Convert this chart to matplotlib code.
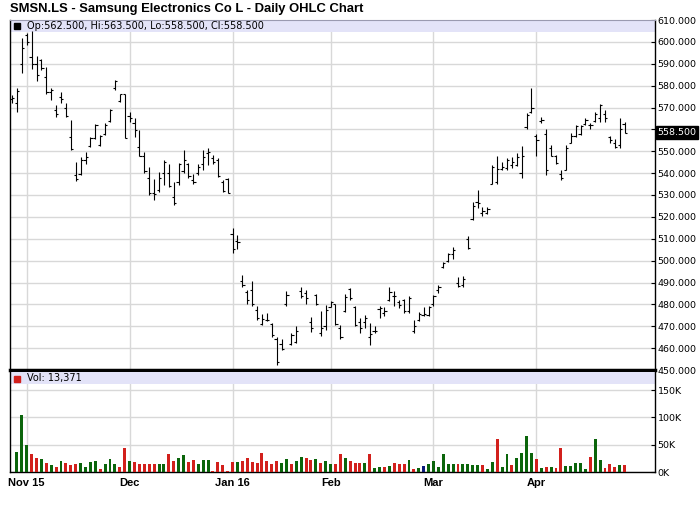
import numpy as np
import matplotlib.pyplot as plt
from matplotlib.patches import Rectangle
from matplotlib.transforms import blended_transform_factory

# Daily OHLC values (end Oct 2015 - late Apr 2016)
opens = [574, 572, 590, 603, 593, 590, 591.5, 584, 577, 569,
         575, 570, 556.6, 539, 539.5, 546, 552.5, 556, 553, 558,
         564, 579, 573, 576, 566, 563, 552, 548, 538, 531,
         532.5, 540, 540, 529, 536, 541, 544, 537, 540, 544,
         549, 547, 546, 536, 537.5, 512.4, 509, 490.9, 485.5, 486.5,
         477.5, 471, 473, 471, 464, 462, 480, 462, 463, 486,
         485, 472, 484.5, 467, 470, 479, 480, 469, 477, 487,
         479, 472, 472, 465, 468, 478, 476, 482, 484, 481,
         481.8, 477, 468, 473, 475, 475, 480, 486.5, 497, 500,
         503, 490, 489, 510, 519, 527, 522, 522, 535, 536,
         542, 542.5, 543.5, 543.5, 540, 561, 568, 557, 564, 558,
         551.7, 548, 539.8, 541.5, 554, 557, 558, 562.5, 562, 564,
         565, 567, 556.6, 554, 553, 562.5]
highs = [575.8, 578.8, 601.8, 604.1, 605, 593.4, 592.2, 588.5, 578.8, 571.2,
         577.3, 572, 564.3, 545.2, 547.4, 549.7, 556.6, 562.4, 557.4, 563,
         569.2, 582.7, 576.2, 576.2, 567.8, 565, 559.7, 549.8, 542.9, 537.1,
         540.6, 545.9, 544.4, 536, 544.7, 550.5, 544.7, 539.8, 544.4, 550.8,
         551.7, 548.2, 546.7, 536.8, 538, 514.7, 511.6, 493.6, 486.4, 490.6,
         479.4, 475.7, 476, 471.4, 465, 464, 486, 466.8, 469.9, 487.9,
         486.7, 474.2, 484.7, 476.8, 479.8, 481.4, 480.3, 470.6, 484.9, 487.5,
         479.4, 473.7, 475.2, 471.4, 469.9, 479.1, 478.8, 487.9, 486, 482.1,
         482.4, 483.7, 472.9, 476.3, 478.8, 479.4, 484.4, 489, 499.5, 503.3,
         506.1, 492.6, 492.9, 511.4, 526.8, 532.1, 524.5, 524.5, 543.6, 547.7,
         545.1, 546.7, 547.4, 549, 552.3, 567.3, 579, 557.8, 565.5, 560.4,
         552.8, 548.2, 541.3, 552.8, 558.5, 562, 562, 565, 563, 568.1,
         571.6, 568.9, 557.2, 555.8, 565, 563.5]
lows = [572, 568.1, 585.7, 598.7, 587.5, 581.9, 587.3, 576.2, 573.5, 565.8,
        572, 565.5, 550.5, 536.6, 539, 544.1, 552, 555.4, 552.4, 557.4,
        563.5, 578.1, 572.7, 555.9, 563.5, 556.6, 547.8, 540.1, 529.9, 527.6,
        531.4, 534.5, 533.7, 525.3, 534.5, 540.1, 538, 535.2, 539.1, 541.3,
        543.6, 544.4, 538.3, 531.4, 531, 503.5, 505.5, 487.8, 480.3, 479.4,
        472.9, 470.6, 472.6, 465, 452.3, 459.2, 479.4, 461.5, 462.2, 482.9,
        480.3, 467.6, 479.8, 465.6, 468.3, 478.8, 470.6, 464, 476.3, 482.1,
        469.9, 466.8, 469.1, 461.5, 467.1, 473.7, 474.8, 481.4, 479.4, 478.3,
        476, 476, 467.1, 472.2, 474.5, 474.5, 479.1, 485.4, 496.6, 499.2,
        500.7, 488, 488, 505.3, 518.6, 524.1, 520.6, 521.1, 534.9, 534.9,
        541.6, 541.3, 542.5, 543.1, 537.9, 560.4, 567.3, 547.7, 562.7, 539,
        547.7, 544.1, 536.7, 541.3, 553.6, 556.3, 557.4, 562, 560.4, 563.5,
        563.5, 563.5, 553.6, 551.7, 551.7, 558.5]
closes = [574.3, 577.5, 597, 600, 590, 585, 588, 577, 578, 567,
          574, 566, 551, 537.5, 546, 547.5, 556, 562, 557, 562,
          569, 582, 576, 556, 565, 559.5, 548, 541, 531, 530.5,
          538, 545, 534, 526.5, 544, 546, 538.5, 536, 543, 547.5,
          549.5, 545, 538.5, 532, 531, 505.5, 508.3, 489, 482, 480,
          474, 473.5, 472.8, 466, 453.5, 459.5, 484.5, 466, 468, 484,
          483, 469, 480, 469, 477.5, 481, 471, 465, 483.5, 482.9,
          470.6, 469, 474, 466.5, 468, 478.5, 477, 485.5, 483.7, 479.5,
          477, 483, 470, 475.8, 475.8, 478.8, 483.7, 487.8, 499, 503,
          505, 488.5, 491.5, 505.8, 525, 526.3, 522.5, 523.4, 543, 542,
          543, 545.8, 545, 547.5, 548, 566.6, 569.6, 555, 564.3, 541.5,
          548, 544.5, 538, 551.5, 557, 561.5, 561.7, 564.3, 562, 567,
          571, 565, 555, 552, 560.4, 558.5]
# volume in thousands
volumes = [0, 37.5, 105, 48.8, 32.5, 25, 24.4, 15.6, 11.9, 10,
           20.6, 15.6, 11.9, 13.8, 16.9, 10, 18.8, 20.6, 5.6, 15,
           24.4, 13.8, 10, 43.8, 20.6, 18.8, 13.8, 13.8, 15, 13.8,
           15, 15, 32.5, 19.4, 26.3, 31.9, 18.8, 22.5, 15, 22.5,
           22.5, 1.9, 18.8, 11.9, 1.9, 18.8, 17.5, 19.4, 26.3, 17.5,
           15.6, 35.6, 20.6, 13.8, 20.6, 16.9, 24.4, 15, 20.6, 28.1,
           26.3, 22.5, 24.4, 16.9, 20.6, 13.8, 13.8, 33.8, 26.3, 20.6,
           16.9, 16.9, 16.9, 33.8, 8.1, 9.4, 9.4, 11.3, 16.9, 15,
           13.8, 22.5, 6.3, 8.1, 11.3, 13.8, 19.4, 10, 32.5, 15,
           13.8, 13.8, 13.8, 15, 13.1, 11.9, 11.9, 6.3, 18.8, 60,
           10, 32.5, 11.9, 26.3, 35.6, 66.3, 34.4, 23.1, 8.1, 9.4,
           9.4, 8.1, 43.8, 11.3, 11.3, 15.6, 15.6, 6.3, 26.9, 60,
           22.5, 8.1, 13.8, 10, 11.9, 13.371]

month_labels = ['Nov 15', 'Dec', 'Jan 16', 'Feb', 'Mar', 'Apr']
month_pos = [3, 24, 45, 65, 86, 107]

x = np.arange(len(opens))
vols = np.array(volumes) * 1000

# volume colour: green up day, red down day, navy unchanged
vol_colors = ['#0b650b']
for i in range(1, len(closes)):
    if closes[i] > closes[i - 1]:
        vol_colors.append('#0b650b')
    elif closes[i] < closes[i - 1]:
        vol_colors.append('#d2201c')
    else:
        vol_colors.append('#0a1a7a')

grid_col = '#d8d8d8'
band_col = '#e3e3f8'
font = 'DejaVu Sans'
bold_font = 'Liberation Sans'

fig = plt.figure(figsize=(7, 5.12), dpi=100)
ax = fig.add_axes([10 / 700, 142 / 512, 645 / 700, 350 / 512])
axv = fig.add_axes([10 / 700, 40 / 512, 645 / 700, 100 / 512], sharex=ax)

# price panel
ax.vlines(x, lows, highs, color='black', lw=0.8, zorder=3)
ax.hlines(opens, x - 0.45, x, color='black', lw=0.8, zorder=3)
ax.hlines(closes, x, x + 0.45, color='black', lw=0.8, zorder=3)
ax.set_xlim(-0.41, 131.2)
ax.set_ylim(450, 610)

yt = np.arange(450, 611, 10)
ax.set_yticks(yt)
ax.set_yticklabels(['' if v == 560 else '%.3f' % v for v in yt],
                   fontsize=6.8, family=font)
ax.yaxis.tick_right()
ax.tick_params(axis='y', direction='in', length=3, pad=2, colors='black')
ax.tick_params(axis='x', length=0, labelbottom=False)
ax.set_xticks(month_pos)
ax.grid(True, color=grid_col, lw=1, zorder=0)
ax.set_axisbelow(True)
for s in ['left', 'right']:
    ax.spines[s].set_color('black')
    ax.spines[s].set_linewidth(1)
ax.spines['top'].set_color('#9a9ab0')
ax.spines['top'].set_linewidth(0.8)
ax.spines['bottom'].set_color('black')
ax.spines['bottom'].set_linewidth(2.5)

ax.add_patch(Rectangle((0, 0.9657), 1, 0.0343, transform=ax.transAxes,
                       color=band_col, zorder=2, lw=0))
ax.plot([0.0101], [0.983], marker='s', ms=5, color='black',
        transform=ax.transAxes, zorder=4, clip_on=False)
ax.text(0.0264, 0.983, 'Op:562.500, Hi:563.500, Lo:558.500, Cl:558.500',
        transform=ax.transAxes, fontsize=7, family=font, va='center',
        zorder=4)

# last price box on the right axis
trans = blended_transform_factory(ax.transAxes, ax.transData)
ax.text(1.004, closes[-1], '%.3f' % closes[-1], transform=trans,
        fontsize=6.8, family=font, color='white', va='center', ha='left',
        bbox=dict(facecolor='black', edgecolor='black', pad=1.2))

# volume panel
axv.bar(x, vols, width=0.6, color=vol_colors, zorder=3)
axv.set_ylim(0, 183000)
axv.set_yticks([0, 50000, 100000, 150000])
axv.set_yticklabels(['0K', '50K', '100K', '150K'], fontsize=6.8, family=font)
axv.yaxis.tick_right()
axv.tick_params(axis='y', direction='in', length=3, pad=2)
axv.set_xticks(month_pos)
axv.set_xticklabels(month_labels, fontsize=8, fontweight='bold',
                    family=bold_font)
axv.tick_params(axis='x', length=0, pad=4)
axv.grid(True, color=grid_col, lw=1, zorder=0)
axv.set_axisbelow(True)
axv.spines['top'].set_visible(False)
for s in ['left', 'right', 'bottom']:
    axv.spines[s].set_color('black')
    axv.spines[s].set_linewidth(1)

axv.add_patch(Rectangle((0, 0.88), 1, 0.12, transform=axv.transAxes,
                        color=band_col, zorder=2, lw=0))
axv.plot([0.0101], [0.935], marker='s', ms=5, color='#d2201c',
         transform=axv.transAxes, zorder=4, clip_on=False)
axv.text(0.0264, 0.935, 'Vol: 13,371', transform=axv.transAxes,
         fontsize=7, family=font, va='center', zorder=4)

fig.text(10 / 700, 1 - 9 / 512,
         'SMSN.LS - Samsung Electronics Co L - Daily OHLC Chart',
         fontsize=9.4, fontweight='bold', family=bold_font, va='center')

fig.savefig('out.png', dpi=100)
